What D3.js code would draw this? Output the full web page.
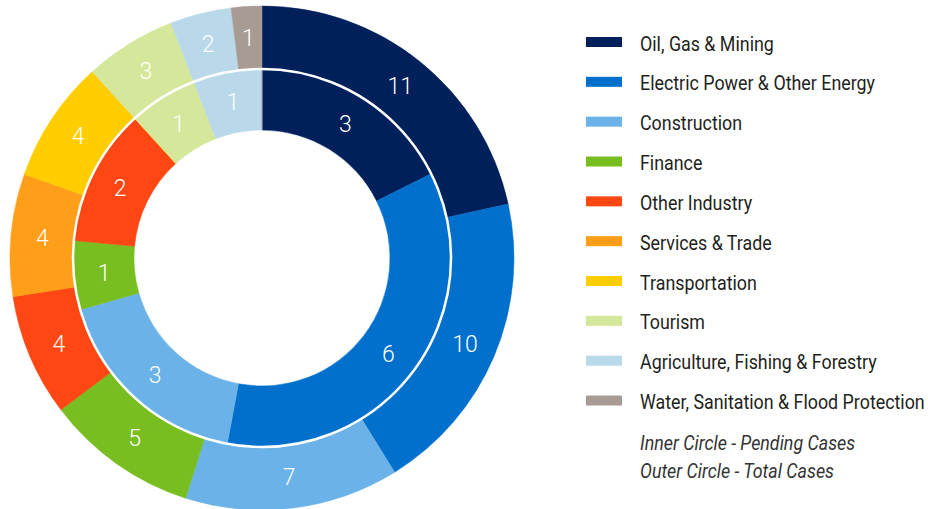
<!DOCTYPE html>
<html><head><meta charset="utf-8">
<script src="https://cdn.jsdelivr.net/npm/d3@7"></script>
<style>body{margin:0;background:#fff;overflow:hidden}</style></head>
<body><svg id="c" width="928" height="509"></svg>
<script>
const categories = ["Oil, Gas & Mining","Electric Power & Other Energy","Construction","Finance","Other Industry","Services & Trade","Transportation","Tourism","Agriculture, Fishing & Forestry","Water, Sanitation & Flood Protection"];
const totalCases = [11,10,7,5,4,4,4,3,2,1];
const pendingCases = [3,6,3,1,2,0,0,1,1,0];
const colors = ["#00205b","#0070cc","#6ab2e7","#78be20","#ff4713","#ff9e18","#ffcd00","#d5e79a","#b9d9eb","#a89b94"];
const notes = ["Inner Circle - Pending Cases","Outer Circle - Total Cases"];

const svg = d3.select("#c");
const cx = 262, cy = 258;
const font = "Roboto, 'Liberation Sans', sans-serif";
const color = d3.scaleOrdinal().domain(categories).range(colors);
const pie = d3.pie().sort(null).value(d => d.v).startAngle(0).endAngle(2*Math.PI);

const g = svg.append("g").attr("transform", `translate(${cx},${cy})`);
const rings = [
  {data: pendingCases, r0: 128, r1: 189},
  {data: totalCases, r0: 189, r1: 252}
];
rings.forEach(ring => {
  const arcs = pie(categories.map((c,i)=>({c, v: ring.data[i]})));
  const arc = d3.arc().innerRadius(ring.r0).outerRadius(ring.r1);
  g.append("g").selectAll("path").data(arcs).join("path")
    .attr("d", arc).attr("fill", d => color(d.data.c))
    .attr("stroke", d => color(d.data.c)).attr("stroke-width", 0.5);
  g.append("g").selectAll("text").data(arcs.filter(d => d.data.v > 0)).join("text")
    .attr("transform", d => `translate(${arc.centroid(d)})`)
    .attr("text-anchor","middle").attr("dy","0.36em")
    .attr("fill","#fff").attr("font-family",font).attr("font-size",23).attr("font-weight",300)
    .text(d => d.data.v);
});
g.append("circle").attr("r",189).attr("fill","none").attr("stroke","#fff").attr("stroke-width",2.5);

// legend
const leg = svg.append("g");
const rowY = d3.scaleLinear().domain([0, categories.length-1]).range([42, 400.5]);
leg.selectAll("rect").data(categories).join("rect")
  .attr("x",586).attr("y",(d,i)=>rowY(i)-5).attr("width",36).attr("height",10)
  .attr("fill", d => color(d));
const texts = leg.selectAll("text.l").data(categories).join("text").attr("class","l")
  .attr("font-family",font).attr("font-size",20).attr("fill","#231f20")
  .text(d=>d);
let maxW = 0;
texts.each(function(){ maxW = Math.max(maxW, this.getComputedTextLength()); });
const sx = 285 / maxW;
texts.attr("transform",(d,i)=>`translate(640,${rowY(i)+8.5}) scale(${sx},1)`);
leg.selectAll("text.n").data(notes).join("text").attr("class","n")
  .attr("font-family",font).attr("font-size",20).attr("font-style","italic").attr("fill","#333")
  .text(d=>d)
  .attr("transform",(d,i)=>`translate(640,${449.5 + i*28.5}) scale(${sx},1)`);
</script>
</body></html>
